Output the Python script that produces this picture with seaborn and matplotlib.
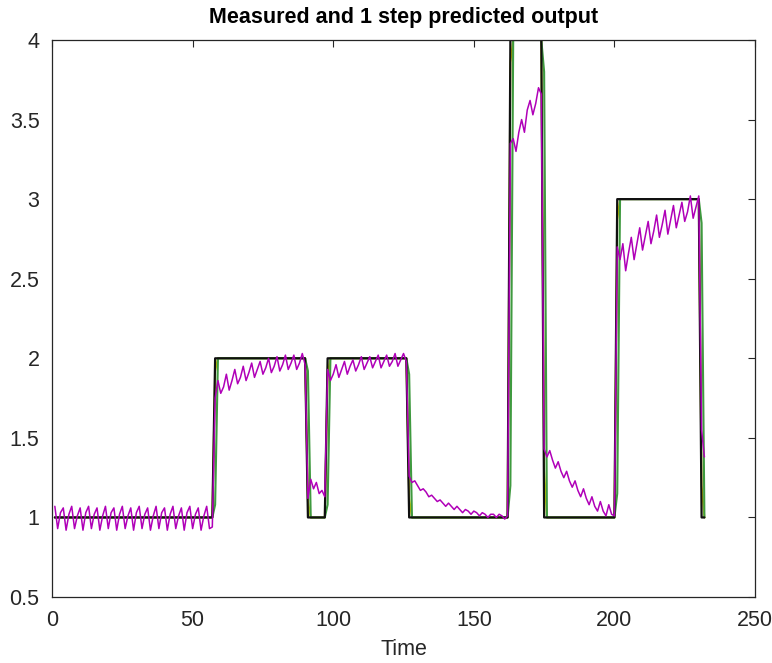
import numpy as np
import pandas as pd
import matplotlib
matplotlib.use("Agg")
import matplotlib.pyplot as plt
import seaborn as sns

# ---- data -------------------------------------------------------------
levels = [1, 2, 1, 2, 1, 4, 1, 3, 1]
lengths = [57, 33, 7, 29, 36, 12, 26, 30, 2]

# values at the first sample of each new level (transition samples)
green_transition = [1.08, 1.92, 1.08, 1.90, 1.20, 3.80, 1.15, 2.85]
yellow_transition = [1.92, 1.10, 1.90, 1.12, 3.86, 1.30, 2.87, 1.20]

magenta_seg1 = [1.07, 0.93, 1.03, 1.06, 0.92, 1.02, 1.07, 0.93, 1.01,
                1.06, 0.92, 1.03, 1.07, 0.93, 1.02, 1.06, 0.92, 1.01,
                1.07, 0.93, 1.03, 1.06, 0.92, 1.02, 1.07, 0.93, 1.01,
                1.06, 0.92, 1.03, 1.07, 0.93, 1.02, 1.06, 0.92, 1.01,
                1.07, 0.93, 1.03, 1.06, 0.92, 1.02, 1.07, 0.93, 1.01,
                1.06, 0.92, 1.03, 1.07, 0.93, 1.02, 1.06, 0.92, 1.01,
                1.07, 0.93, 0.94]
magenta_seg2 = [1.75, 1.86, 1.78, 1.82, 1.90, 1.80, 1.86, 1.93, 1.84, 1.88,
                1.95, 1.86, 1.91, 1.97, 1.88, 1.93, 1.98, 1.90, 1.94, 2.00,
                1.91, 1.95, 2.01, 1.92, 1.96, 2.02, 1.93, 1.97, 2.02, 1.93,
                1.97, 2.03, 1.96]
magenta_seg3 = [1.12, 1.24, 1.18, 1.22, 1.15, 1.17, 1.13]
magenta_seg4 = [1.93, 1.86, 1.90, 1.96, 1.88, 1.93, 1.98, 1.90, 1.95, 1.99,
                1.92, 1.96, 2.01, 1.93, 1.97, 2.01, 1.94, 1.98, 2.02, 1.94,
                1.98, 2.02, 1.95, 1.98, 2.03, 1.95, 1.99, 2.03, 1.98]
magenta_seg5 = [1.26, 1.22, 1.23, 1.20, 1.17, 1.18, 1.16, 1.13, 1.14, 1.12,
                1.10, 1.11, 1.09, 1.07, 1.09, 1.07, 1.05, 1.07, 1.05, 1.03,
                1.05, 1.04, 1.02, 1.04, 1.03, 1.01, 1.03, 1.02, 1.00, 1.02,
                1.02, 1.00, 1.02, 1.01, 0.99, 1.01]
magenta_seg6 = [3.35, 3.38, 3.30, 3.42, 3.50, 3.42, 3.56, 3.62, 3.53, 3.60,
                3.70, 3.66]
magenta_seg7 = [1.43, 1.38, 1.42, 1.36, 1.31, 1.35, 1.29, 1.25, 1.29, 1.23,
                1.19, 1.23, 1.17, 1.13, 1.18, 1.12, 1.08, 1.13, 1.07, 1.04,
                1.10, 1.04, 1.01, 1.08, 1.02, 1.01]
magenta_seg8 = [2.70, 2.62, 2.72, 2.55, 2.66, 2.76, 2.62, 2.72, 2.82, 2.68,
                2.77, 2.86, 2.72, 2.80, 2.90, 2.76, 2.84, 2.93, 2.78, 2.87,
                2.96, 2.82, 2.90, 2.98, 2.86, 2.92, 3.02, 2.88, 2.95, 3.02]
magenta_seg9 = [1.55, 1.38]

x_ticks = [0, 50, 100, 150, 200, 250]
y_ticks = [0.5, 1, 1.5, 2, 2.5, 3, 3.5, 4]
y_tick_labels = ["0.5", "1", "1.5", "2", "2.5", "3", "3.5", "4"]

# ---- build series ------------------------------------------------------
measured = np.repeat(levels, lengths).astype(float)
magenta = np.array(magenta_seg1 + magenta_seg2 + magenta_seg3 + magenta_seg4 +
                   magenta_seg5 + magenta_seg6 + magenta_seg7 + magenta_seg8 +
                   magenta_seg9)
time = np.arange(1, len(measured) + 1)
starts = np.cumsum(lengths)[:-1]          # indices of transition samples
green = measured.copy()
green[starts] = green_transition
yellow = measured.copy()
yellow[starts] = yellow_transition

df = pd.DataFrame({"Time": time, "measured": measured, "green": green,
                   "yellow": yellow, "pred": magenta[:len(time)]})

# ---- plot --------------------------------------------------------------
sns.set_style("white")
plt.rcParams["font.family"] = ["Liberation Sans", "DejaVu Sans"]

fig = plt.figure(figsize=(7.72, 6.63), dpi=100)
ax = fig.add_axes([0.0674, 0.0995, 0.9106, 0.8402])

sns.lineplot(data=df, x="Time", y="yellow", ax=ax, color="#d8d400",
             linewidth=1.4, estimator=None, sort=False)
sns.lineplot(data=df, x="Time", y="green", ax=ax, color="#3f9a3f",
             linewidth=1.5, estimator=None, sort=False)
sns.lineplot(data=df, x="Time", y="measured", ax=ax, color="#101010",
             linewidth=1.6, estimator=None, sort=False)
sns.lineplot(data=df, x="Time", y="pred", ax=ax, color="#b000b8",
             linewidth=1.1, estimator=None, sort=False)

ax.set_xlim(0, 250)
ax.set_ylim(0.5, 4)
ax.set_xticks(x_ticks)
ax.set_yticks(y_ticks)
ax.set_yticklabels(y_tick_labels)
ax.tick_params(direction="in", length=5, width=0.8, colors="#262626",
               labelsize=15.5, top=True, right=True, pad=9)
for sp in ax.spines.values():
    sp.set_color("#262626")
    sp.set_linewidth(0.9)
ax.set_xlabel("Time", fontsize=15.5, color="#262626", labelpad=6)
ax.set_ylabel("")
ax.set_title("Measured and 1 step predicted output", fontsize=15.5,
             fontweight="bold", color="black", pad=12)

fig.savefig("out.png", dpi=100)
